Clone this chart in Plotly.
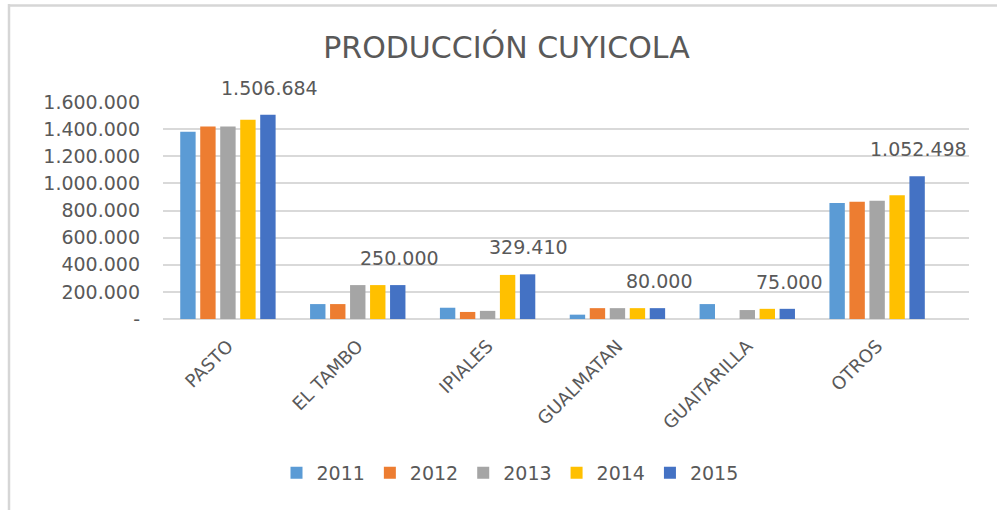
import plotly.graph_objects as go

categories = ["PASTO", "EL TAMBO", "IPIALES", "GUALMATAN", "GUAITARILLA", "OTROS"]
years = ["2011", "2012", "2013", "2014", "2015"]
v2011 = [1380000, 110000, 83000, 32000, 110000, 855000]
v2012 = [1420000, 110000, 52000, 80000, None, 865000]
v2013 = [1420000, 250000, 60000, 80000, 66000, 872000]
v2014 = [1470000, 250000, 325000, 80000, 75000, 912000]
v2015 = [1506684, 250000, 329410, 80000, 75000, 1052498]
label_text = ["1.506.684", "250.000", "329.410", "80.000", "75.000", "1.052.498"]
ytick_vals = [0, 200000, 400000, 600000, 800000, 1000000, 1200000, 1400000, 1600000]
ytick_text = ["-", "200.000", "400.000", "600.000", "800.000", "1.000.000",
              "1.200.000", "1.400.000", "1.600.000"]

series = [v2011, v2012, v2013, v2014, v2015]
colors = ["#5B9BD5", "#ED7D31", "#A5A5A5", "#FFC000", "#4472C4"]

W, H = 997, 510
ML, MR, MT, MB = 163, 28, 102, 191
BARGAP = 0.23
FONT = "DejaVu Sans"
TXT = "#595959"

fig = go.Figure()
for name, vals, col in zip(years, series, colors):
    fig.add_trace(go.Bar(x=categories, y=vals, name=name,
                         marker=dict(color=col, line=dict(width=0))))

plot_w = W - ML - MR
slot = (plot_w / len(categories)) * (1 - BARGAP) / len(years)
for cat, val, txt in zip(categories, v2015, label_text):
    fig.add_annotation(x=cat, y=val, text=txt, showarrow=False,
                       xshift=2 * slot, yshift=27, yanchor="middle",
                       font=dict(family=FONT, size=19, color=TXT))

plot_h = H - MT - MB
def px_to_paper_x(px):
    return (px - ML) / plot_w
def px_to_paper_y(py):
    return (H - MB - py) / plot_h

# outer chart-area frame (left and top edges visible in the reference)
fig.add_shape(type="line", xref="paper", yref="paper", layer="above",
              x0=px_to_paper_x(9), x1=px_to_paper_x(9),
              y0=px_to_paper_y(530), y1=px_to_paper_y(4),
              line=dict(color="#D6D6D6", width=2.5))
fig.add_shape(type="line", xref="paper", yref="paper", layer="above",
              x0=px_to_paper_x(8), x1=px_to_paper_x(997),
              y0=px_to_paper_y(5.5), y1=px_to_paper_y(5.5),
              line=dict(color="#D6D6D6", width=2.5))

fig.update_layout(
    width=W, height=H,
    margin=dict(l=ML, r=MR, t=MT, b=MB),
    paper_bgcolor="white", plot_bgcolor="white",
    barmode="group", bargap=BARGAP, bargroupgap=0.23,
    title=dict(text="PRODUCCIÓN CUYICOLA", x=0.508, xref="container",
               y=1 - 47 / H, yref="container", xanchor="center", yanchor="middle",
               font=dict(family=FONT, size=30, color=TXT)),
    legend=dict(orientation="h", x=px_to_paper_x(510), xanchor="center",
                y=px_to_paper_y(473), yanchor="middle",
                font=dict(family=FONT, size=19, color=TXT),
                itemwidth=30, traceorder="normal"),
    xaxis=dict(tickangle=-45, tickfont=dict(family=FONT, size=18, color=TXT),
               showgrid=False, showline=False, ticks="", ticklabelstandoff=12),
    yaxis=dict(range=[0, 1600000], tickvals=ytick_vals, ticktext=ytick_text,
               tickfont=dict(family=FONT, size=19, color=TXT),
               showgrid=True, gridcolor="#D9D9D9", gridwidth=1.5,
               zeroline=True, zerolinecolor="#D9D9D9", zerolinewidth=1.5,
               showline=False, ticks="", ticklabelstandoff=22),
)
fig.write_html("out.html", config={"displayModeBar": False},
               post_script="document.body.style.margin='0';")
